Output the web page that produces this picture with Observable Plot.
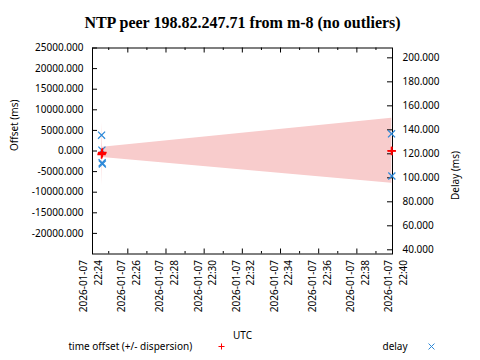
<!DOCTYPE html>
<html><head><meta charset="utf-8">
<script src="https://cdn.jsdelivr.net/npm/d3@7"></script>
<script src="https://cdn.jsdelivr.net/npm/@observablehq/plot@0.6"></script>
<style>body{margin:0;background:#fff}</style>
</head><body><div id="chart"></div>
<script>
const titleText = "NTP peer 198.82.247.71 from m-8 (no outliers)";
const offsetTimes = ["2026-01-07T22:24:37.5Z","2026-01-07T22:24:38.5Z","2026-01-07T22:24:39.2Z","2026-01-07T22:24:40.0Z","2026-01-07T22:39:49.0Z","2026-01-07T22:39:50.0Z"];
const offsetValues = [-850, -600, -450, -350, 50, 0];
const dispersionValues = [7800, 5000, 2500, 1250, 7900, 7950];
const delayTimes = ["2026-01-07T22:24:37.5Z","2026-01-07T22:24:38.5Z","2026-01-07T22:24:39.2Z","2026-01-07T22:24:40.0Z","2026-01-07T22:39:49.0Z","2026-01-07T22:39:50.0Z"];
const delayValues = [135.5, 123, 112.5, 111.5, 136.7, 101.5];
const offsetTicks = [-20000,-15000,-10000,-5000,0,5000,10000,15000,20000,25000];
const delayTicks = [40,60,80,100,120,140,160,180,200];
const xLabelTimes = ["22:24","22:26","22:28","22:30","22:32","22:34","22:36","22:38","22:40"];
const xMinorTimes = ["22:25","22:27","22:29","22:31","22:33","22:35","22:37","22:39"];
const xMajorTimes = ["22:26","22:28","22:30","22:32","22:34","22:36","22:38"];
const dateLabel = "2026-01-07";
const xDomain = ["2026-01-07T22:24:09Z","2026-01-07T22:39:52Z"];
const offsetDomain = [-25000, 25000];
const delayDomain = [36.5, 208.2];

const W = 480, H = 360, mL = 92, mR = 88, mT = 47.5, mB = 106.5;
const fW = W - mL - mR, fH = H - mT - mB;
const toDate = s => new Date(s.length === 5 ? `${dateLabel}T${s}:00Z` : s);
const toLeft = d => offsetDomain[0] + (d - delayDomain[0]) / (delayDomain[1] - delayDomain[0]) * (offsetDomain[1] - offsetDomain[0]);

const offsetData = offsetTimes.map((t, i) => ({t: toDate(t), o: offsetValues[i], d: dispersionValues[i]}));
const delayData = delayTimes.map((t, i) => ({t: toDate(t), v: delayValues[i]}));
const cx = mL + fW / 2;
const red = "#ff0000", blue = "#2b88d8";

const plot = Plot.plot({
  width: W, height: H,
  marginLeft: mL, marginRight: mR, marginTop: mT, marginBottom: mB,
  style: {fontFamily: "'Noto Sans', sans-serif", fontSize: "10px", color: "black", background: "white"},
  x: {type: "utc", domain: xDomain.map(toDate), axis: null},
  y: {domain: offsetDomain, axis: null},
  marks: [
    Plot.areaY(offsetData, {x: "t", y1: d => d.o - d.d, y2: d => d.o + d.d, fill: "#f8cccc"}),
    Plot.frame({stroke: "black"}),
    Plot.tickY(offsetTicks, {y: d => d, insetRight: fW - 5, stroke: "black"}),
    Plot.tickY(delayTicks, {y: d => toLeft(d), insetLeft: fW - 5, stroke: "black"}),
    Plot.tickX(xMajorTimes.map(toDate), {x: d => d, insetTop: fH - 5, stroke: "black"}),
    Plot.tickX(xMajorTimes.map(toDate), {x: d => d, insetBottom: fH - 5, stroke: "black"}),
    Plot.tickX(xMinorTimes.map(toDate), {x: d => d, insetTop: fH - 2.5, stroke: "black"}),
    Plot.tickX(xMinorTimes.map(toDate), {x: d => d, insetBottom: fH - 2.5, stroke: "black"}),
    Plot.text(offsetTicks, {y: d => d, text: d => d.toFixed(3), frameAnchor: "left", dx: -9, textAnchor: "end", fill: "black"}),
    Plot.text(delayTicks, {y: d => toLeft(d), text: d => d.toFixed(3), frameAnchor: "right", dx: 10, textAnchor: "start", fill: "black"}),
    Plot.text(xLabelTimes, {x: d => toDate(d), text: d => `${dateLabel}\n${d}`, frameAnchor: "bottom", rotate: -90, textAnchor: "end", lineAnchor: "middle", lineHeight: 1.45, dy: 6, dx: 0, fill: "black"}),
    Plot.dot(delayData, {x: "t", y: d => toLeft(d.v), symbol: "times", stroke: blue, r: 3.3, strokeWidth: 1.2}),
    Plot.dot(offsetData, {x: "t", y: "o", symbol: "plus", stroke: red, r: 2.8, strokeWidth: 1.6}),
    Plot.text([titleText], {frameAnchor: "top", lineAnchor: "middle", dy: -25.5, fontSize: 16, fontWeight: "bold", fontFamily: "'Liberation Serif', serif", fill: "black"}),
    Plot.text(["Offset (ms)"], {frameAnchor: "left", dx: -78, rotate: -90, fill: "black"}),
    Plot.text(["Delay (ms)"], {frameAnchor: "right", dx: 63, rotate: -90, fill: "black"}),
    Plot.text(["UTC"], {frameAnchor: "bottom", lineAnchor: "middle", dy: 81.5, fill: "black"}),
    Plot.text(["time offset (+/- dispersion)"], {frameAnchor: "bottom", lineAnchor: "middle", dx: 68 - cx, dy: 92.5, textAnchor: "start", fill: "black"}),
    Plot.dot([0], {frameAnchor: "bottom", dx: 221 - cx, dy: 92.5, symbol: "plus", stroke: red, r: 2.1, strokeWidth: 1}),
    Plot.text(["delay"], {frameAnchor: "bottom", lineAnchor: "middle", dx: 382 - cx, dy: 92.5, textAnchor: "start", fill: "black"}),
    Plot.dot([0], {frameAnchor: "bottom", dx: 431 - cx, dy: 92.5, symbol: "times", stroke: blue, r: 2.8, strokeWidth: 1})
  ]
});
document.getElementById("chart").appendChild(plot);
</script></body></html>
